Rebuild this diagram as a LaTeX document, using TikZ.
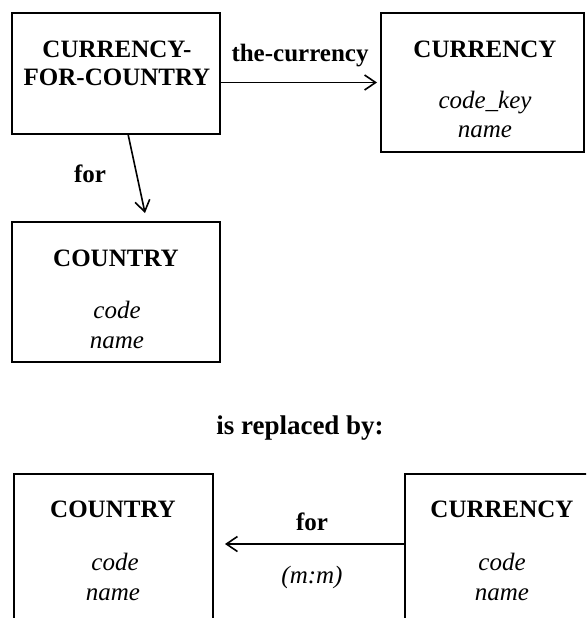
\documentclass[tikz,border=0pt]{standalone}
\usepackage{fontspec}
\setmainfont{Liberation Serif}
\usetikzlibrary{arrows.meta}
\begin{document}
\begin{tikzpicture}[x=1pt,y=1pt,
  entity/.style={draw, line width=2.6pt, rectangle, inner sep=0pt, outer sep=0pt, anchor=north west},
  title/.style={font=\fontsize{25}{28}\selectfont\bfseries, anchor=base, inner sep=0pt},
  attr/.style={font=\fontsize{25}{28}\selectfont\itshape, anchor=base, inner sep=0pt},
  rel/.style={font=\fontsize{25}{28}\selectfont\bfseries, anchor=base, inner sep=0pt},
  link/.style={line width=1.6pt, -{Straight Barb[length=11pt,width=15pt,line width=1.6pt]}}]
\useasboundingbox (0,0) rectangle (586,-618);
\clip (0,0) rectangle (586,-618);

% ---- upper schema ----
\node[entity, minimum width=208pt, minimum height=121pt] (cfc) at (12,-13) {};
\node[title] (cfct1) at (117,-57) {CURRENCY-};
\node[title] (cfct2) at (117,-85) {FOR-COUNTRY};

\node[entity, minimum width=203pt, minimum height=139pt] (cur) at (381,-13) {};
\node[title] (curt) at (485,-57) {CURRENCY};
\node[attr] (cura1) at (485,-108) {code\_key};
\node[attr] (cura2) at (485,-137) {name};

\node[entity, minimum width=208pt, minimum height=140pt] (cty) at (12,-222) {};
\node[title] (ctyt) at (116,-266) {COUNTRY};
\node[attr] (ctya1) at (117,-318) {code};
\node[attr] (ctya2) at (117,-348) {name};

\draw[link, shorten >=4pt] (cfc.east |- cur.west) -- (cur.west);
\node[rel] (lcur) at (300,-62) {the-currency};
\draw[link] ([xshift=12pt]cfc.south) -- ([xshift=29pt,yshift=9pt]cty.north);
\node[rel] (lfor) at (90,-182) {for};

% ---- caption ----
\node[font=\fontsize{27}{30}\selectfont\bfseries, anchor=base, inner sep=0pt] (repl) at (300,-434) {is replaced by:};

% ---- lower schema ----
\node[entity, minimum width=199pt, minimum height=180pt] (cty2) at (14,-474) {};
\node[title] (cty2t) at (113,-517) {COUNTRY};
\node[attr] (cty2a1) at (115,-570) {code};
\node[attr] (cty2a2) at (113,-600) {name};

\node[entity, minimum width=200pt, minimum height=180pt] (cur2) at (405,-474) {};
\node[title] (cur2t) at (502,-517) {CURRENCY};
\node[attr] (cur2a1) at (502,-570) {code};
\node[attr] (cur2a2) at (502,-600) {name};

\draw[link, shorten >=12pt] ([yshift=-70pt]cur2.north west) -- ([yshift=-70pt]cty2.north east);
\node[rel] (lfor2) at (312,-530) {for};
\node[attr] (lmm) at (312,-583) {(m:m)};
\end{tikzpicture}
\end{document}
